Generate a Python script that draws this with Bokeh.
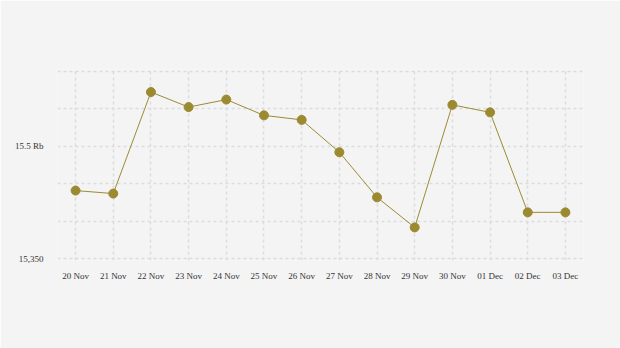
from bokeh.plotting import figure
from bokeh.models import FixedTicker, Range1d, ColumnDataSource
from bokeh.embed import file_html
from bokeh.resources import INLINE

dates = ["20 Nov", "21 Nov", "22 Nov", "23 Nov", "24 Nov", "25 Nov", "26 Nov",
         "27 Nov", "28 Nov", "29 Nov", "30 Nov", "01 Dec", "02 Dec", "03 Dec"]
values = [15441, 15437, 15572, 15552, 15562, 15541, 15535,
          15492, 15432, 15392, 15555, 15545, 15412, 15412]
y_ticks = [15350, 15400, 15450, 15500, 15550, 15600]
y_tick_labels = {15350: "15,350", 15500: "15.5 Rb"}

xs = list(range(len(dates)))
src = ColumnDataSource(dict(x=xs, y=values))

bg = "#f4f4f4"
p = figure(width=620, height=348, output_backend="svg", toolbar_location=None,
           x_range=Range1d(-0.48, len(dates) - 1 + 0.48),
           y_range=Range1d(15348, 15602),
           min_border_left=57, min_border_right=37, min_border_top=69, min_border_bottom=88)
p.background_fill_color = bg
p.border_fill_color = bg
p.outline_line_color = None

p.line("x", "y", source=src, line_color="#9c8a35", line_width=1)
p.scatter("x", "y", source=src, size=9, fill_color="#9c8a30", line_color="#9c8a30")

p.xaxis.ticker = FixedTicker(ticks=xs)
p.xaxis.major_label_overrides = {i: d for i, d in enumerate(dates)}
p.yaxis.ticker = FixedTicker(ticks=y_ticks)
p.yaxis.major_label_overrides = {t: y_tick_labels.get(t, "") for t in y_ticks}

for ax in (p.xaxis, p.yaxis):
    ax.axis_line_color = None
    ax.major_tick_line_color = None
    ax.minor_tick_line_color = None
    ax.major_label_text_font = "Liberation Serif"
    ax.major_label_text_font_size = "9px"
    ax.major_label_text_color = "#333333"
p.xaxis.major_label_standoff = 4
p.yaxis.major_label_standoff = 8

for g in (p.xgrid, p.ygrid):
    g.grid_line_color = "#dcdcdc"
    g.grid_line_dash = "3 3"
    g.grid_line_width = 1.5

open("out.html", "w").write(file_html(p, INLINE))
